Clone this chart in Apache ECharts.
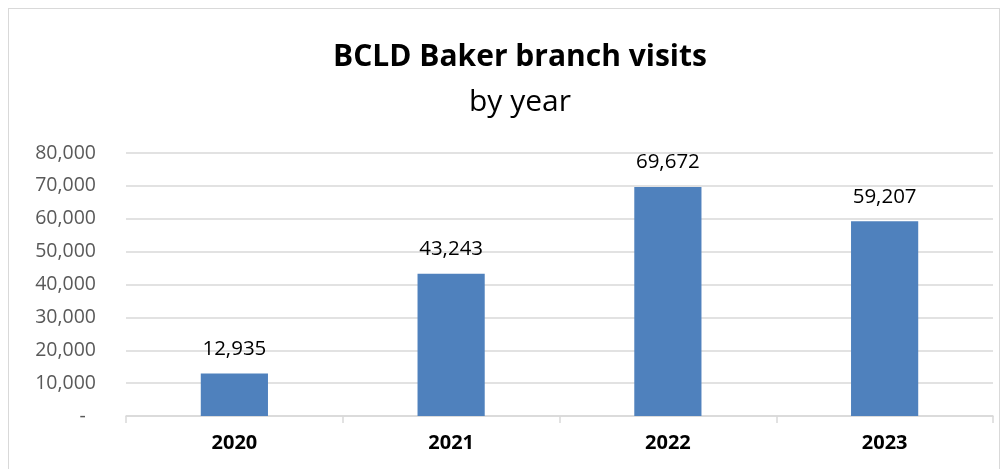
<!DOCTYPE html>
<html><head><meta charset="utf-8">
<script src="https://cdn.jsdelivr.net/npm/echarts@6/dist/echarts.min.js"></script>
<style>html,body{margin:0;padding:0;background:#fff}#c{width:1008px;height:469px}
#frame{position:absolute;left:8px;top:8px;width:992px;height:470px;border:1.5px solid #d9d9d9;box-sizing:border-box;pointer-events:none}</style>
</head><body><div id="c"></div><div id="frame"></div>
<script>
const categories = ['2020', '2021', '2022', '2023'];
const visits = [12935, 43243, 69672, 59207];
const yTicks = [0, 10000, 20000, 30000, 40000, 50000, 60000, 70000, 80000];
const fmt = v => v === 0 ? '-' : v.toLocaleString('en-US');
const chart = echarts.init(document.getElementById('c'));
chart.setOption({
  animation: false,
  title: [
    {text: 'BCLD Baker branch visits', left: 515, top: 37, textAlign: 'center',
     textStyle: {fontFamily: 'Open Sans', fontWeight: 'bold', fontSize: 30, color: '#000'}},
    {text: 'by year', left: 515, top: 82, textAlign: 'center',
     textStyle: {fontFamily: 'Open Sans', fontWeight: 'normal', fontSize: 30, color: '#000'}}
  ],
  grid: {left: 126, right: 15, top: 153, bottom: 53},
  xAxis: {
    type: 'category', data: categories,
    axisLine: {lineStyle: {color: '#d9d9d9', width: 1.5}},
    axisTick: {show: true, length: 7, lineStyle: {color: '#d9d9d9', width: 1.5}},
    axisLabel: {fontFamily: 'Open Sans', fontWeight: 'bold', fontSize: 20, color: '#000', margin: 17}
  },
  yAxis: {
    type: 'value', min: yTicks[0], max: yTicks[yTicks.length - 1], interval: 10000,
    axisLine: {show: false}, axisTick: {show: false},
    splitLine: {lineStyle: {color: '#d9d9d9', width: 1.5}},
    axisLabel: {fontFamily: 'Open Sans', fontSize: 19.5, color: '#595959', margin: 30,
                formatter: v => v === 0 ? '-  ' : fmt(v)}
  },
  series: [{
    type: 'bar', data: visits, barWidth: '31%',
    itemStyle: {color: '#4f81bd'},
    label: {show: true, position: 'top', distance: 14, fontFamily: 'Open Sans', fontSize: 20.5, color: '#000',
            formatter: p => fmt(p.value)}
  }]
});
</script></body></html>
